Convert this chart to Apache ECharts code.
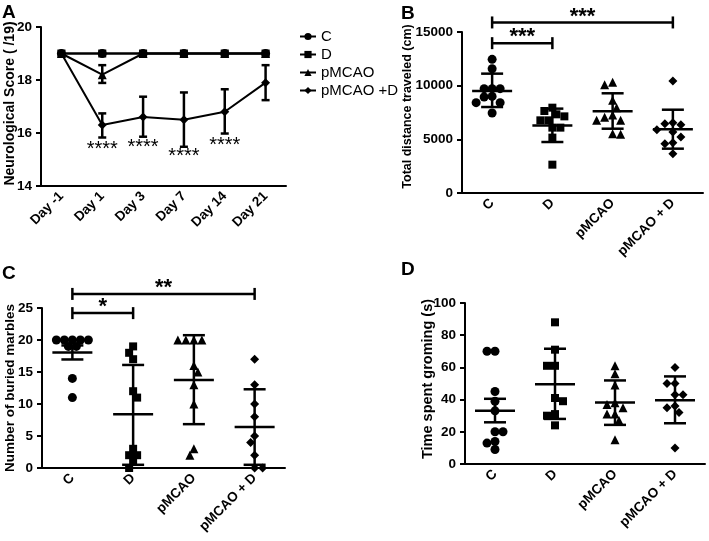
<!DOCTYPE html>
<html>
<head>
<meta charset="utf-8">
<script src="https://cdn.jsdelivr.net/npm/echarts@6/dist/echarts.min.js"></script>
<style>
html, body { margin: 0; padding: 0; background: #fff; }
#main { width: 709px; height: 541px; }
</style>
</head>
<body>
<div id="main"></div>
<script>
// panel A - neurological score
var days = ['Day -1', 'Day 1', 'Day 3', 'Day 7', 'Day 14', 'Day 21'];
var scoreC = [19, 19, 19, 19, 19, 19];
var scoreD = [19, 19, 19, 19, 19, 19];
var scorePM = [19, 18.2, 19, 19, 19, 19];
var scorePMLo = [19, 17.89, 19, 19, 19, 19];
var scorePMHi = [19, 18.56, 19, 19, 19, 19];
var scorePMD = [19, 16.3, 16.6, 16.5, 16.8, 17.9];
var scorePMDLo = [19, 15.83, 15.86, 15.48, 15.98, 17.24];
var scorePMDHi = [19, 16.74, 17.37, 17.53, 17.65, 18.56];
var starsA = [null, 15.52, 15.61, 15.26, 15.67, null];

// groups for B, C, D
var groups = ['C', 'D', 'pMCAO', 'pMCAO + D'];

// panel B - total distance
var distC = [12450, 11580, 9720, 9720, 9720, 9000, 8940, 8420, 8420, 7450];
var distD = [7950, 7640, 7330, 7140, 6770, 6770, 6090, 6090, 5160, 2640];
var distPM = [10310, 10090, 8630, 7950, 7270, 7050, 6770, 6770, 5530, 5470];
var distPMD = [10430, 6550, 6460, 6370, 5900, 5680, 5220, 4690, 4600, 3660];
var distMean = [9500, 6300, 7610, 5930];
var distLo = [8010, 4750, 5990, 4130];
var distHi = [11120, 7860, 9290, 7760];

// panel C - buried marbles
var marbC = [20, 20, 20, 20, 20, 19, 19, 14, 11];
var marbD = [19, 18, 17, 12, 11, 3, 2, 2, 1, 0];
var marbPM = [20, 20, 20, 20, 16, 15, 13, 10, 3, 2];
var marbPMD = [17, 13, 10, 8, 5, 4, 2, 0, 0];
var marbMean = [18.05, 8.4, 13.75, 6.4];
var marbLo = [16.96, 0.5, 6.85, 0.5];
var marbHi = [19.15, 16.1, 20.75, 12.3];

// panel D - grooming time
var groomC = [70, 70, 45, 39, 33, 20, 20, 14, 13, 9];
var groomD = [88, 71, 61, 61, 41, 39, 31, 30, 24];
var groomPM = [61, 56, 49, 38, 37, 35, 31, 31, 27, 15];
var groomPMD = [60, 50, 50, 43, 43, 36, 35, 32, 10];
var groomMean = [33, 49.6, 38.2, 39.6];
var groomLo = [25.9, 28, 24.3, 25.3];
var groomHi = [40.5, 71.6, 51.9, 54.4];

// significance brackets [from, to, level, label]
var bracketsB = [[0, 1, 13960, '***'], [0, 3, 15890, '***']];
var bracketsC = [[0, 1, 24.2, '*'], [0, 3, 27.2, '**']];

var F = "'Liberation Sans Narrow', 'Liberation Sans', Arial, sans-serif";
var symbols = ['circle', 'rect', 'triangle', 'diamond'];
var sizes = [9, 8, 9, 9];

var grids = [
    {left: 41, top: 27, width: 245, height: 159},
    {left: 462, top: 32, width: 241, height: 161},
    {left: 42, top: 308, width: 243, height: 160},
    {left: 465, top: 303, width: 240, height: 161}
];

// spread overlapping dots sideways (beeswarm like)
function swarm(vals, ppu) {
    var s = 7.5, step = 4, flip = 1;
    var order = vals.map(function (v, i) { return i; }).sort(function (a, b) { return vals[b] - vals[a]; });
    var placed = [];
    var off = [];
    order.forEach(function (i) {
        var y = vals[i] * ppu;
        for (var k = 0; k < 30; k++) {
            var cands = k === 0 ? [0] : [-flip * k * step, flip * k * step];
            for (var c = 0; c < cands.length; c++) {
                var x = cands[c];
                var ok = placed.every(function (p) { return Math.hypot(p.x - x, p.y - y) >= s; });
                if (ok) {
                    placed.push({x: x, y: y});
                    off[i] = x;
                    if (x !== 0) flip = -flip;
                    return;
                }
            }
        }
    });
    return off;
}

function xAxis(i, data) {
    return {
        type: 'category', gridIndex: i, data: data, boundaryGap: true,
        axisLine: {lineStyle: {color: '#000', width: 2}},
        axisTick: {alignWithLabel: true, length: 5, lineStyle: {color: '#000', width: 2}},
        axisLabel: {rotate: 45, color: '#000', fontWeight: 'bold', fontSize: 13.5, fontFamily: F, margin: 8, interval: 0},
        splitLine: {show: false}
    };
}

// lift = how far the title sits above the axis middle
function yAxis(i, min, max, step, name, gap, nameSize, lift) {
    return {
        type: 'value', gridIndex: i, min: min, max: max, interval: step,
        axisLine: {show: true, lineStyle: {color: '#000', width: 2}},
        axisTick: {show: true, length: 5, lineStyle: {color: '#000', width: 2}},
        axisLabel: {color: '#000', fontWeight: 'bold', fontSize: 13.5, fontFamily: F, margin: 9,
            formatter: function (v) { return String(v); }},
        splitLine: {show: false},
        name: name, nameLocation: 'middle', nameGap: gap, nameMoveOverlap: false,
        nameTextStyle: {color: '#000', fontWeight: 'bold', fontSize: nameSize, fontFamily: F,
            padding: [0, 0, 0, lift]}
    };
}

// mean line + error bar for a dot plot
function meanBars(i, mean, lo, hi) {
    return {
        type: 'custom', xAxisIndex: i, yAxisIndex: i, silent: true, z: 5,
        data: mean.map(function (m, k) { return [k, m, lo[k], hi[k]]; }),
        renderItem: function (params, api) {
            var m = api.coord([api.value(0), api.value(1)]);
            var l = api.coord([api.value(0), api.value(2)]);
            var h = api.coord([api.value(0), api.value(3)]);
            var st = {stroke: '#000', lineWidth: 2.5};
            return {type: 'group', children: [
                {type: 'line', shape: {x1: m[0] - 20, y1: m[1], x2: m[0] + 20, y2: m[1]}, style: st},
                {type: 'line', shape: {x1: l[0], y1: l[1], x2: h[0], y2: h[1]}, style: st},
                {type: 'line', shape: {x1: l[0] - 11, y1: l[1], x2: l[0] + 11, y2: l[1]}, style: st},
                {type: 'line', shape: {x1: h[0] - 11, y1: h[1], x2: h[0] + 11, y2: h[1]}, style: st}
            ]};
        }
    };
}

function brackets(i, list) {
    return {
        type: 'custom', xAxisIndex: i, yAxisIndex: i, silent: true, clip: false, z: 5,
        data: list.map(function (b) { return [b[0], b[1], b[2]]; }),
        renderItem: function (params, api) {
            var a = api.coord([api.value(0), api.value(2)]);
            var b = api.coord([api.value(1), api.value(2)]);
            var st = {stroke: '#000', lineWidth: 2.5};
            return {type: 'group', children: [
                {type: 'line', shape: {x1: a[0], y1: a[1], x2: b[0], y2: b[1]}, style: st},
                {type: 'line', shape: {x1: a[0], y1: a[1] - 6, x2: a[0], y2: a[1] + 6}, style: st},
                {type: 'line', shape: {x1: b[0], y1: b[1] - 6, x2: b[0], y2: b[1] + 6}, style: st},
                {type: 'text', style: {x: (a[0] + b[0]) / 2, y: a[1] - 6, text: list[params.dataIndex][3],
                    fill: '#000', font: 'bold 22px Liberation Sans, Arial, sans-serif', align: 'center', verticalAlign: 'middle'}}
            ]};
        }
    };
}

function dots(i, g, vals, ppu) {
    var off = swarm(vals, ppu);
    return {
        type: 'scatter', name: 'p' + i + g, xAxisIndex: i, yAxisIndex: i, silent: true, z: 4,
        symbol: symbols[g], symbolSize: sizes[g], itemStyle: {color: '#000', opacity: 1},
        data: vals.map(function (v, j) { return {value: [g, v], symbolOffset: [off[j], 0]}; })
    };
}

function lineSeries(name, g, data) {
    return {
        type: 'line', name: name, xAxisIndex: 0, yAxisIndex: 0, data: data,
        symbol: symbols[g], symbolSize: sizes[g], showSymbol: true,
        lineStyle: {color: '#000', width: 2}, itemStyle: {color: '#000'}, z: 3
    };
}

var chart = echarts.init(document.getElementById('main'));

var series = [
    lineSeries('pMCAO +D', 3, scorePMD),
    lineSeries('pMCAO', 2, scorePM),
    lineSeries('C', 0, scoreC),
    lineSeries('D', 1, scoreD),
    {
        type: 'custom', xAxisIndex: 0, yAxisIndex: 0, silent: true, z: 5,
        data: days.map(function (d, k) { return [k, scorePMLo[k], scorePMHi[k], scorePMDLo[k], scorePMDHi[k]]; }),
        renderItem: function (params, api) {
            var kids = [];
            var st = {stroke: '#000', lineWidth: 2.5};
            [[1, 2], [3, 4]].forEach(function (p) {
                if (api.value(p[0]) === api.value(p[1])) return;
                var l = api.coord([api.value(0), api.value(p[0])]);
                var h = api.coord([api.value(0), api.value(p[1])]);
                kids.push({type: 'line', shape: {x1: l[0], y1: l[1], x2: h[0], y2: h[1]}, style: st});
                kids.push({type: 'line', shape: {x1: l[0] - 4, y1: l[1], x2: l[0] + 4, y2: l[1]}, style: st});
                kids.push({type: 'line', shape: {x1: h[0] - 4, y1: h[1], x2: h[0] + 4, y2: h[1]}, style: st});
            });
            return {type: 'group', children: kids};
        }
    },
    {
        type: 'custom', xAxisIndex: 0, yAxisIndex: 0, silent: true, clip: false, z: 5,
        data: starsA.map(function (s, k) { return [k, s == null ? '-' : s]; }),
        renderItem: function (params, api) {
            if (starsA[params.dataIndex] == null) return;
            var p = api.coord([api.value(0), api.value(1)]);
            return {type: 'text', style: {x: p[0], y: p[1] + 4, text: '****', fill: '#000',
                font: '20px Liberation Sans, Arial, sans-serif', align: 'center', verticalAlign: 'middle'}};
        }
    }
];

var ppuB = 161 / 15000, ppuC = 160 / 25, ppuD = 161 / 100;
[distC, distD, distPM, distPMD].forEach(function (v, g) { series.push(dots(1, g, v, ppuB)); });
[marbC, marbD, marbPM, marbPMD].forEach(function (v, g) { series.push(dots(2, g, v, ppuC)); });
[groomC, groomD, groomPM, groomPMD].forEach(function (v, g) { series.push(dots(3, g, v, ppuD)); });
series.push(meanBars(1, distMean, distLo, distHi));
series.push(meanBars(2, marbMean, marbLo, marbHi));
series.push(meanBars(3, groomMean, groomLo, groomHi));
series.push(brackets(1, bracketsB));
series.push(brackets(2, bracketsC));

var option = {
    animation: false,
    backgroundColor: '#fff',
    grid: grids,
    xAxis: [xAxis(0, days), xAxis(1, groups), xAxis(2, groups), xAxis(3, groups)],
    yAxis: [
        yAxis(0, 14, 20, 2, 'Neurological Score ( /19)', 24, 14, 6),
        yAxis(1, 0, 15000, 5000, 'Total distance traveled (cm)', 48, 12.5, 12),
        yAxis(2, 0, 25, 5, 'Number of buried marbles', 25, 13.5, 0),
        yAxis(3, 0, 100, 20, 'Time spent groming (s)', 30, 14.5, 9)
    ],
    legend: {
        data: ['C', 'D', 'pMCAO', 'pMCAO +D'],
        orient: 'vertical', left: 294, top: 24, itemGap: 3,
        itemWidth: 16, itemHeight: 9,
        textStyle: {color: '#000', fontSize: 15, fontFamily: "'Liberation Sans', Arial, sans-serif"}
    },
    graphic: [
        {type: 'text', left: 2, top: 3, style: {text: 'A', fill: '#000', font: 'bold 19px Liberation Sans, Arial, sans-serif'}},
        {type: 'text', left: 401, top: 4, style: {text: 'B', fill: '#000', font: 'bold 19px Liberation Sans, Arial, sans-serif'}},
        {type: 'text', left: 2, top: 264, style: {text: 'C', fill: '#000', font: 'bold 19px Liberation Sans, Arial, sans-serif'}},
        {type: 'text', left: 401, top: 260, style: {text: 'D', fill: '#000', font: 'bold 19px Liberation Sans, Arial, sans-serif'}}
    ],
    series: series
};
chart.setOption(option);
</script>
</body>
</html>
